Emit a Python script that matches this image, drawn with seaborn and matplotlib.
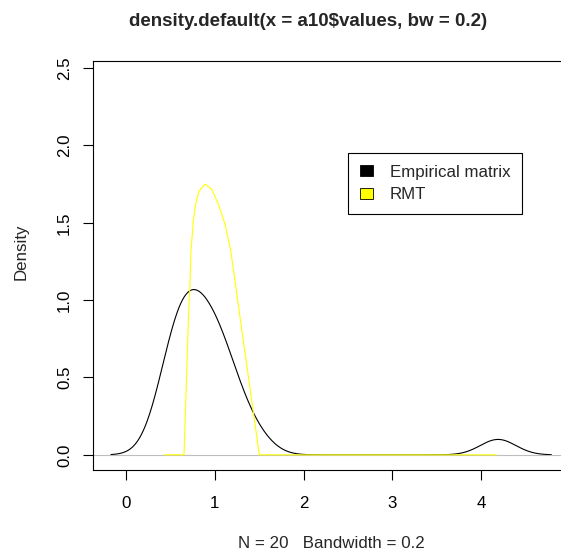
import numpy as np
import matplotlib
matplotlib.use("Agg")
import matplotlib.pyplot as plt
import seaborn as sns
from matplotlib.patches import Patch

# ================= DADOS =================
# autovalores (a10$values), lidos de volta a partir da curva de densidade
eigenvalues = [0.43, 0.48, 0.53, 0.57, 0.61, 0.65, 0.69, 0.73, 0.77, 0.81,
               0.86, 0.91, 0.96, 1.01, 1.06, 1.11, 1.17, 1.25, 1.46, 4.19]
bandwidth = 0.2

# curva RMT (Marchenko-Pastur)
rmt_x = [0.43, 0.653, 0.702, 0.717, 0.732, 0.758, 0.785, 0.822, 0.890, 0.965,
         1.039, 1.115, 1.179, 1.227, 1.273, 1.501, 4.17]
rmt_y = [0.0, 0.0, 0.869, 1.062, 1.320, 1.513, 1.623, 1.706, 1.750, 1.717,
         1.621, 1.492, 1.320, 1.127, 0.934, 0.0, 0.0]

x_ticks = [0, 1, 2, 3, 4]
y_ticks = [0.0, 0.5, 1.0, 1.5, 2.0, 2.5]
legend_labels = ["Empirical matrix", "RMT"]
legend_colors = ["black", "yellow"]

title = "density.default(x = a10$values, bw = 0.2)"
xlabel = "N = 20   Bandwidth = 0.2"

# ================= FIGURA =================
sns.set_theme(style="white")
plt.rcParams["font.family"] = ["Liberation Sans", "DejaVu Sans"]
plt.rcParams["savefig.bbox"] = "standard"

W, H = 561, 555
fig = plt.figure(figsize=(W / 100, H / 100), dpi=100)
# caixa do gráfico em pixels: esquerda 93, topo 60.7, base 470; a direita fica cortada
# na borda da imagem (sem linha da direita, como no original)
ax = fig.add_axes([93 / W, (H - 470) / H, (W - 93) / W, (470 - 60.7) / H])

lw = 0.8
sns.kdeplot(x=eigenvalues, bw_method=bandwidth / np.std(eigenvalues, ddof=1),
            cut=3, gridsize=512, color="black", linewidth=lw, ax=ax)
ax.axhline(0, color="#BEBEBE", linewidth=lw)
sns.lineplot(x=rmt_x, y=rmt_y, color="yellow", linewidth=lw, sort=False,
             estimator=None, ax=ax)

# 88.8 px por unidade em x, zero em x=126 px
ax.set_xlim(-0.372, (W - 126) / 88.8)
ax.set_ylim(-0.098, 2.548)
ax.set_xticks(x_ticks)
ax.set_xticklabels([str(t) for t in x_ticks])
ax.set_yticks(y_ticks)
ax.set_yticklabels([f"{t:.1f}" for t in y_ticks], rotation=90, va="center")

fs = 12.2
ax.tick_params(axis="both", direction="out", length=7.2, width=lw,
               color="black", labelsize=fs, labelcolor="black")
ax.tick_params(axis="x", pad=11.5)
ax.tick_params(axis="y", pad=8)
ax.xaxis.set_ticks_position("bottom")
ax.yaxis.set_ticks_position("left")
for s in ax.spines.values():
    s.set_color("black")
    s.set_linewidth(lw)
ax.spines["right"].set_visible(False)

ax.set_xlabel(xlabel, fontsize=fs)
ax.set_ylabel("Density", fontsize=fs)
axw, axh = W - 93, 470 - 60.7
ax.xaxis.set_label_coords((331 - 93) / axw, (470 - 543) / axh)
ax.yaxis.set_label_coords((21 - 93) / axw, (470 - 252) / axh)
ax.xaxis.label.set_va("center")
ax.yaxis.label.set_va("center")

fig.text(308 / W, 1 - 21 / H, title, ha="center", va="center",
         fontsize=13.5, fontweight="bold")

handles = [Patch(facecolor=c, edgecolor="black", linewidth=0.6) for c in legend_colors]
leg = ax.legend(handles, legend_labels, loc="upper left",
                bbox_to_anchor=((347.7 - 93) / axw, (470 - 152.7) / axh),
                borderaxespad=0, fontsize=fs, frameon=True, fancybox=False,
                framealpha=1, edgecolor="black", borderpad=0.7,
                handlelength=0.78, handleheight=0.6, handletextpad=1.0,
                labelspacing=0.45)
leg.get_frame().set_linewidth(lw)

fig.savefig("out.png", dpi=100)
